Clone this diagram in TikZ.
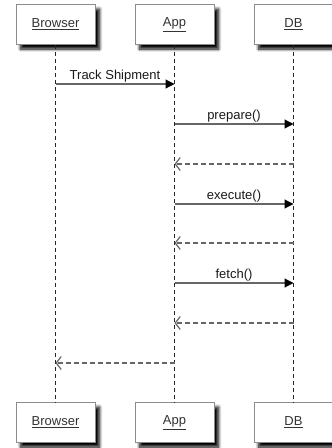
\documentclass[tikz,border=0pt]{standalone}
\usepackage{fontspec}
\setmainfont{Liberation Sans}
\usetikzlibrary{arrows.meta,shadows.blur}
\tikzset{
	actor/.style={draw=black!45, fill=white, line width=0.9pt, minimum width=79pt, minimum height=40pt, inner sep=0pt, font=\fontsize{13}{15}\selectfont, text=black!80, blur shadow={shadow xshift=4.5pt, shadow yshift=-4.5pt, shadow blur radius=3pt, shadow blur steps=8, shadow opacity=100}},
	lifeline/.style={black!85, line width=1.4pt, dash pattern=on 4pt off 3pt},
	call/.style={black!60, line width=1.2pt, -{Triangle[length=9pt, width=9pt, color=black]}},
	reply/.style={black!60, line width=1.2pt, dash pattern=on 5pt off 3pt, -{Straight Barb[length=5pt, width=13pt]}},
	msglabel/.style={above, font=\fontsize{13}{15}\selectfont, inner sep=1.5pt, text=black!90}
}
\begin{document}
\begin{tikzpicture}[x=1pt, y=-1pt]
	\useasboundingbox (0,0) rectangle (332,448);
	% actors, top and bottom
	\node[actor] (browser) at (55.5,24.5) {\underline{Browser}};
	\node[actor] (app) at (174.5,24.5) {\underline{App}};
	\node[actor] (db) at (293.5,24.5) {\underline{DB}};
	\node[actor] (browserb) at (55.5,422.5) {\underline{Browser}};
	\node[actor] (appb) at (174.5,422.5) {\underline{App}};
	\node[actor] (dbb) at (293.5,422.5) {\underline{DB}};
	% lifelines
	\draw[lifeline] (browser) -- (browserb);
	\draw[lifeline] (app) -- (appb);
	\draw[lifeline] (db) -- (dbb);
	% messages
	\draw[call] (browser |- 0,84) -- node[msglabel] {Track Shipment} (app |- 0,84);
	\draw[call] (app |- 0,124) -- node[msglabel] {prepare()} (db |- 0,124);
	\draw[reply] (db |- 0,164) -- (app |- 0,164);
	\draw[call] (app |- 0,204) -- node[msglabel] {execute()} (db |- 0,204);
	\draw[reply] (db |- 0,243) -- (app |- 0,243);
	\draw[call] (app |- 0,283) -- node[msglabel] {fetch()} (db |- 0,283);
	\draw[reply] (db |- 0,323) -- (app |- 0,323);
	\draw[reply] (app |- 0,363) -- (browser |- 0,363);
\end{tikzpicture}
\end{document}
